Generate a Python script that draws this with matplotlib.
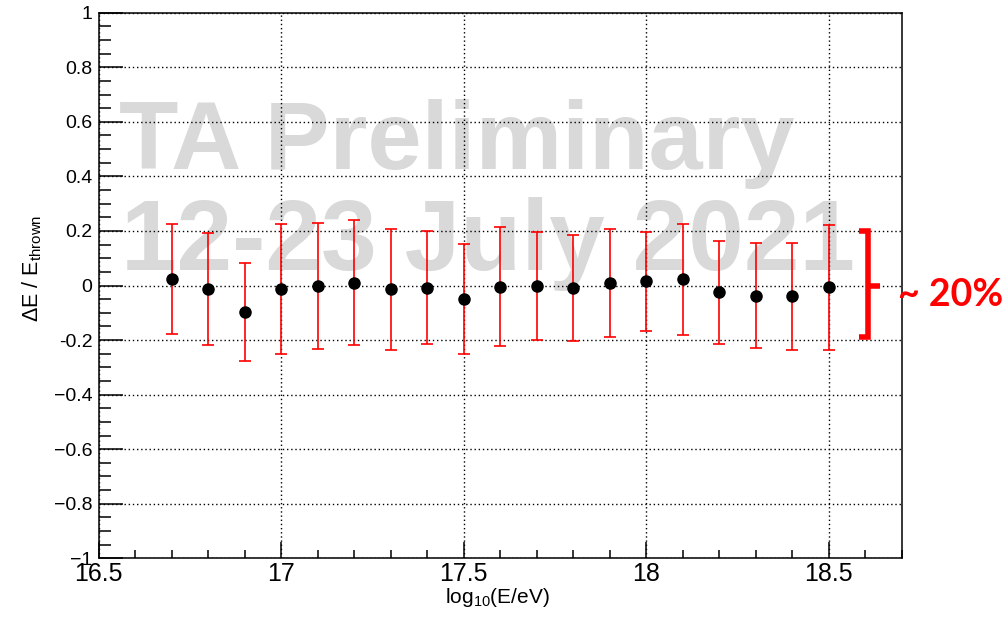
import matplotlib
matplotlib.use("Agg")
from matplotlib import pyplot as plt
from matplotlib.ticker import MultipleLocator, FixedLocator, FixedFormatter

plt.rcParams["font.family"] = ["Liberation Sans", "DejaVu Sans"]
plt.rcParams["mathtext.fontset"] = "custom"
plt.rcParams["mathtext.rm"] = "Liberation Sans"

# energy bins (log10 E/eV), mean resolution and its spread
log_e = [16.7, 16.8, 16.9, 17.0, 17.1, 17.2, 17.3, 17.4, 17.5, 17.6,
         17.7, 17.8, 17.9, 18.0, 18.1, 18.2, 18.3, 18.4, 18.5]
delta_e = [0.023, -0.012, -0.096, -0.013, -0.002, 0.010, -0.014, -0.008, -0.049, -0.005,
           -0.002, -0.009, 0.010, 0.015, 0.023, -0.025, -0.037, -0.040, -0.007]
spread = [0.201, 0.205, 0.179, 0.239, 0.230, 0.229, 0.223, 0.207, 0.202, 0.218,
          0.199, 0.194, 0.198, 0.181, 0.204, 0.190, 0.193, 0.197, 0.228]

xtick_vals = [16.5, 17, 17.5, 18, 18.5]
xtick_labels = ["16.5", "17", "17.5", "18", "18.5"]
ytick_vals = [-1, -0.8, -0.6, -0.4, -0.2, 0, 0.2, 0.4, 0.6, 0.8, 1]
ytick_labels = ["\u22121", "\u22120.8", "\u22120.6", "\u22120.4", "-0.2", "0",
                "0.2", "0.4", "0.6", "0.8", "1"]

# bracket marking the +-20% band
band = [0.2, -0.19]

fig = plt.figure(figsize=(10.02, 6.17), dpi=100)
ax = fig.add_axes([0.0985, 0.0951, 0.8014, 0.8843])

ax.errorbar(log_e, delta_e, yerr=spread, fmt="o", color="black", markersize=8,
            ecolor="red", elinewidth=1.2, capsize=4, capthick=1.2, zorder=3)

ax.set_xlim(16.5, 18.7)
ax.set_ylim(-1, 1)

ax.xaxis.set_major_locator(FixedLocator(xtick_vals))
ax.xaxis.set_major_formatter(FixedFormatter(xtick_labels))
ax.xaxis.set_minor_locator(MultipleLocator(0.1))
ax.yaxis.set_major_locator(FixedLocator(ytick_vals))
ax.yaxis.set_major_formatter(FixedFormatter(ytick_labels))
ax.yaxis.set_minor_locator(MultipleLocator(0.05))

ax.tick_params(axis="both", which="both", direction="in", width=1.1,
               top=False, right=False)
ax.tick_params(axis="x", which="major", length=11.5, labelsize=18, pad=3)
ax.tick_params(axis="x", which="minor", length=5.8)
ax.tick_params(axis="y", which="major", length=17, labelsize=14, pad=4.5)
ax.tick_params(axis="y", which="minor", length=8.5)
for sp in ax.spines.values():
    sp.set_linewidth(1.1)

ax.grid(True, which="major", color="black", linestyle=(0, (1, 2)), linewidth=1)

ax.set_xlabel(r"log$_{\mathregular{10}}$(E/eV)", fontsize=15)
ax.xaxis.set_label_coords(0.497, -0.051)
ax.set_ylabel(r"ΔE / E$_{\mathregular{thrown}}$", fontsize=15.5)
ax.yaxis.set_label_coords(-0.068, 0.532)

# watermark
ax.text(0.025, 0.7135, "TA Preliminary", transform=ax.transAxes, fontsize=70,
        fontweight="bold", color="#d9d9d9", ha="left", va="baseline", zorder=1)
ax.text(0.028, 0.5284, "12-23 July 2021", transform=ax.transAxes, fontsize=72,
        fontweight="bold", color="#d9d9d9", ha="left", va="baseline", zorder=1)

# bracket
bx = 18.609
ax.plot([18.583, bx, bx, 18.583], [band[0], band[0], band[1], band[1]],
        color="red", linewidth=4, solid_joinstyle="miter", solid_capstyle="butt",
        zorder=4, clip_on=False)
ax.plot([bx, 18.640], [0, 0], color="red", linewidth=4, solid_capstyle="butt",
        zorder=4, clip_on=False)

fig.text(0.896, 0.504, "~ 20%", fontsize=27, fontweight="bold", color="red",
         family=["Lato", "DejaVu Sans"], ha="left", va="baseline")

fig.savefig("out.png", dpi=100)
